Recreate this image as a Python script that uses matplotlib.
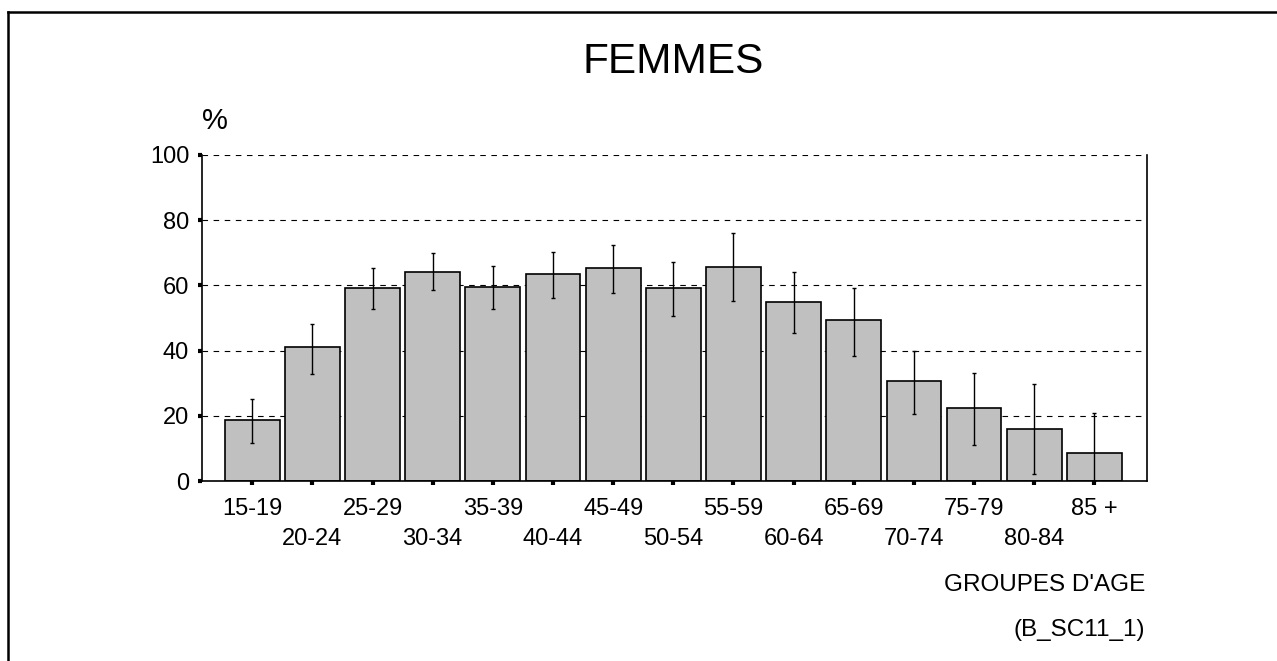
import matplotlib
matplotlib.use("Agg")
import matplotlib.pyplot as plt
from matplotlib.lines import Line2D
import numpy as np

plt.rcParams['font.family'] = ['Liberation Sans', 'DejaVu Sans']

# age groups and percentages
groups = ["15-19", "20-24", "25-29", "30-34", "35-39", "40-44", "45-49", "50-54",
          "55-59", "60-64", "65-69", "70-74", "75-79", "80-84", "85 +"]
values = [18.8, 41.0, 59.2, 64.2, 59.6, 63.4, 65.4, 59.2,
          65.7, 54.8, 49.3, 30.6, 22.3, 16.0, 8.6]
upper = [25.1, 48.1, 65.2, 70.0, 66.0, 70.3, 72.4, 67.2,
         76.1, 64.2, 59.2, 39.8, 33.1, 29.7, 20.8]
lower = [11.6, 32.8, 52.8, 58.5, 52.8, 56.1, 57.6, 50.5,
         55.1, 45.4, 38.4, 20.6, 11.2, 2.1, 0.0]
yticks = [0, 20, 40, 60, 80, 100]

W, H = 1277, 661
fig = plt.figure(figsize=(W / 100, H / 100), dpi=100)
ax = fig.add_axes([201.7 / W, 1 - 481.3 / H, (1146.7 - 201.7) / W, (481.3 - 154.7) / H])

x = np.arange(len(groups))
vals = np.array(values)
yerr = [vals - np.array(lower), np.array(upper) - vals]

ax.bar(x, vals, width=0.91, color="#c0c0c0", edgecolor="black", linewidth=1.2, zorder=2)
ax.errorbar(x, vals, yerr=yerr, fmt="none", ecolor="black", elinewidth=1.0,
            capsize=1.2, capthick=1.0, zorder=3)

ax.set_xlim(-0.84, 14.87)
ax.set_ylim(0, 100)
ax.set_yticks(yticks)
ax.set_yticklabels([str(v) for v in yticks], fontsize=17)
ax.set_xticks(x)
ax.set_xticklabels([])
ax.tick_params(axis="both", direction="out", length=3, width=3, color="black")
ax.tick_params(axis="y", pad=6)

ax.grid(axis="y", color="black", linestyle=(0, (5, 5)), linewidth=0.8, zorder=1)
ax.set_axisbelow(True)
ax.spines["top"].set_visible(False)
for s in ["left", "bottom", "right"]:
    ax.spines[s].set_linewidth(1.2)

# staggered age labels
for i, g in enumerate(groups):
    off = -27.5 if i % 2 == 0 else -57.5
    ax.annotate(g, xy=(i, 0), xycoords=("data", "axes fraction"),
                xytext=(0, off * 0.72), textcoords="offset points",
                ha="center", va="center", fontsize=17)

fig.text(673 / W, 1 - 62 / H, "FEMMES", ha="center", va="center", fontsize=30.5)
fig.text(215 / W, 1 - 121 / H, "%", ha="center", va="center", fontsize=21)
fig.text(1145 / W, 1 - 585 / H, "GROUPES D'AGE", ha="right", va="center", fontsize=17.5)
fig.text(1145 / W, 1 - 630 / H, "(B_SC11_1)", ha="right", va="center", fontsize=17.5)

# frame around the figure (only left and top edges visible)
fig.add_artist(Line2D([8 / W, 8 / W], [0, 1 - 12 / H], color="black", linewidth=1.8,
                      transform=fig.transFigure))
fig.add_artist(Line2D([8 / W, 1], [1 - 12 / H, 1 - 12 / H], color="black", linewidth=1.8,
                      transform=fig.transFigure))

fig.savefig("out.png", dpi=100)
